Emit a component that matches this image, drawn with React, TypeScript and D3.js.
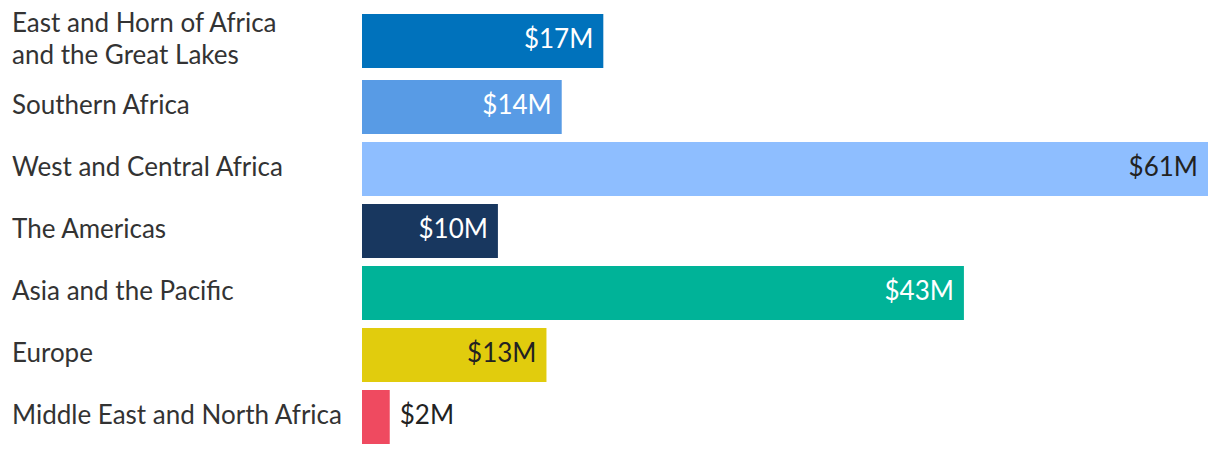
import React from "react";
import * as d3 from "d3";

const regions: string[][] = [
  ["East and Horn of Africa", "and the Great Lakes"],
  ["Southern Africa"],
  ["West and Central Africa"],
  ["The Americas"],
  ["Asia and the Pacific"],
  ["Europe"],
  ["Middle East and North Africa"],
];
const values: number[] = [17.4, 14.4, 61, 9.8, 43.4, 13.3, 2.0];
const colors: string[] = ["#0072BC", "#589BE5", "#8EBEFF", "#18375F", "#00B398", "#E1CC0D", "#EF4A60"];
const labelColors: string[] = ["#ffffff", "#ffffff", "#222222", "#ffffff", "#ffffff", "#222222", "#222222"];

const W = 1220;
const H = 456;

export default function App() {
  const keys = regions.map((r) => r.join(" "));
  const x = d3.scaleLinear().domain([0, 61]).range([362, 1208]);
  const y = d3
    .scaleBand<string>()
    .domain(keys)
    .range([18, 18 + 62 * keys.length - 8])
    .paddingInner(8 / 62)
    .paddingOuter(0);
  const bw = y.bandwidth();
  const fmt = (v: number) => `$${d3.format(".0f")(Math.round(v))}M`;
  const font = "Lato, 'Open Sans', sans-serif";

  return (
    <svg width={W} height={H} style={{ position: "absolute", left: 0, top: 0, background: "#fff" }}>
      {keys.map((k, i) => {
        const y0 = (y(k) as number) - (i === 0 ? 4 : 0);
        const cy = y0 + bw / 2;
        const x1 = x(values[i]);
        const w = x1 - x(0);
        const inside = w > 60;
        const lines = regions[i];
        return (
          <g key={k}>
            {lines.map((ln, j) => (
              <text
                key={j}
                x={12}
                y={cy + (j - (lines.length - 1) / 2) * 32 - 2}
                dy="0.35em"
                fontFamily={font}
                fontSize={26}
                fill="#333333"
              >
                {ln}
              </text>
            ))}
            <rect x={x(0)} y={y0} width={w} height={bw} fill={colors[i]} />
            <text
              x={inside ? x1 - 10 : x1 + 10}
              y={cy - 2}
              dy="0.35em"
              textAnchor={inside ? "end" : "start"}
              fontFamily={font}
              fontSize={26}
              fill={inside ? labelColors[i] : "#222222"}
            >
              {fmt(values[i])}
            </text>
          </g>
        );
      })}
    </svg>
  );
}
